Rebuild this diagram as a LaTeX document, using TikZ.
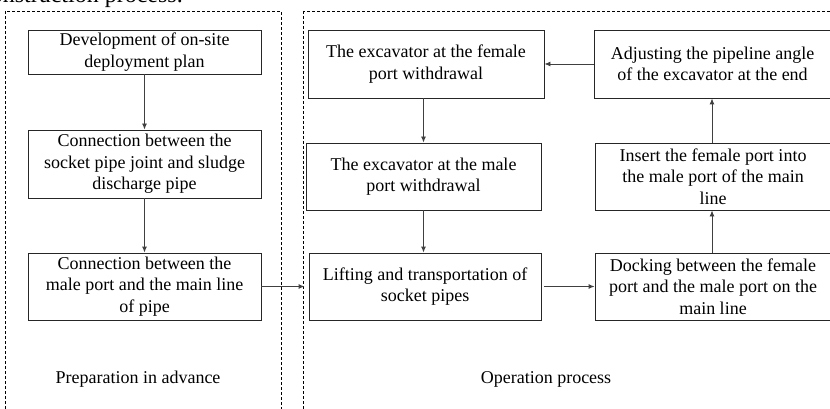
\documentclass[tikz,border=0pt]{standalone}
\usepackage{fontspec}
\setmainfont{Liberation Serif}
\usetikzlibrary{arrows.meta}
\begin{document}
\begin{tikzpicture}[x=1pt,y=-1pt,
  stepbox/.style={draw=black!85, line width=0.9pt, rectangle, inner sep=0pt, align=center,
    font=\fontsize{18}{21.5}\selectfont},
  flow/.style={draw=black!75, line width=0.9pt, -{Latex[length=6pt,width=5pt]}},
  region/.style={draw=black, line width=0.7pt, dash pattern=on 3pt off 2pt},
  lbl/.style={font=\fontsize{18}{21}\selectfont, inner sep=0pt}]
\useasboundingbox (0,0) rectangle (830,409);
\clip (0,0) rectangle (830,409);
% cut caption text at top
\node[anchor=base east, inner sep=0pt, font=\fontsize{24}{28}\selectfont] (cap) at (183,3) {Construction process.};
% regions
\draw[region] (5,11) rectangle (281,420);
\draw[region] (303,11) rectangle (850,420);
% left column
\node[stepbox, minimum width=233pt, minimum height=44pt] (A) at (144.5,52) {Development of on-site\\deployment plan};
\node[stepbox, minimum width=233pt, minimum height=68pt] (B) at (144.5,164) {Connection between the\\socket pipe joint and sludge\\discharge pipe};
\node[stepbox, minimum width=233pt, minimum height=67pt] (C) at (144.5,286.5) {Connection between the\\male port and the main line\\of pipe};
% middle column
\node[stepbox, minimum width=236pt, minimum height=68pt] (D) at (426,64) {The excavator at the female\\port withdrawal};
\node[stepbox, minimum width=235pt, minimum height=67pt] (E) at (423.5,176.5) {The excavator at the male\\port withdrawal};
\node[stepbox, minimum width=232pt, minimum height=67pt] (F) at (425,286.5) {Lifting and transportation of\\socket pipes};
% right column
\node[stepbox, minimum width=237pt, minimum height=68pt] (I) at (712.5,64) {Adjusting the pipeline angle\\of the excavator at the end};
\node[stepbox, minimum width=236pt, minimum height=67pt] (H) at (713,176.5) {Insert the female port into\\the male port of the main\\line};
\node[stepbox, minimum width=236pt, minimum height=67pt] (G) at (713,286.5) {Docking between the female\\port and the male port on the\\main line};
% labels
\node[lbl] (L1) at (138,379) {Preparation in advance};
\node[lbl] (L2) at (546,379) {Operation process};
% connectors
\draw[flow] (A.south) -- (B.north);
\draw[flow] (B.south) -- (C.north);
\draw[flow] (C.east) -- ([xshift=-4pt]F.west);
\draw[flow] (D.south -| E.north) -- (E.north);
\draw[flow] (E.south) -- (E.south |- F.north);
\draw[flow] ([xshift=3pt]F.east) -- (G.west);
\draw[flow] (G.north -| 712,0) -- (H.south -| 712,0);
\draw[flow] (H.north -| 712,0) -- (I.south -| 712,0);
\draw[flow] (I.west) -- (D.east);
\end{tikzpicture}
\end{document}
